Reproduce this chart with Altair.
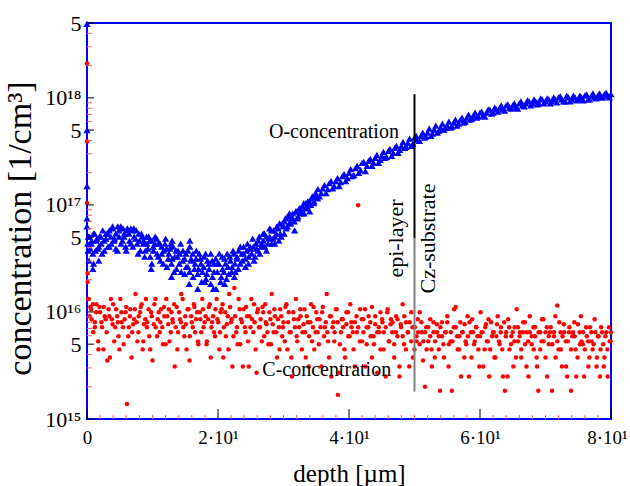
import altair as alt
import pandas as pd

# Oxygen concentration profile (blue triangles): depth in µm, concentration in 1/cm³
o_depth = [
    0.0, 0.0, 0.0, 0.0, 0.0, 0.1, 0.3, 0.9, 0.2, 0.5,
    0.7, 1.0, 1.3, 1.5, 1.8, 2.1, 2.3, 2.6, 2.9, 3.2,
    3.4, 3.7, 3.9, 4.2, 4.4, 4.7, 4.9, 5.2, 5.5, 5.7,
    6.0, 6.2, 6.5, 6.7, 7.0, 7.2, 7.5, 7.8, 8.0, 8.3,
    8.6, 8.8, 9.1, 9.3, 9.6, 9.9, 10.1, 10.4, 10.7, 10.9,
    11.2, 11.4, 11.7, 12.0, 12.2, 12.5, 12.8, 13.0, 13.3, 13.6,
    13.8, 14.1, 14.3, 14.6, 14.9, 15.1, 15.4, 15.7, 15.9, 16.2,
    16.5, 16.7, 17.0, 17.3, 17.5, 17.8, 18.1, 18.3, 18.6, 18.9,
    19.1, 19.4, 19.7, 19.9, 20.2, 20.5, 20.7, 21.0, 21.3, 21.5,
    21.8, 22.1, 22.3, 22.6, 22.9, 23.1, 23.4, 23.7, 23.9, 24.2,
    24.5, 24.7, 25.0, 25.3, 25.5, 25.8, 26.1, 26.3, 26.6, 26.9,
    27.1, 27.4, 27.7, 27.9, 28.2, 28.5, 28.7, 29.0, 29.3, 29.5,
    29.8, 30.1, 30.3, 30.6, 30.9, 31.1, 31.4, 31.7, 31.9, 32.2,
    32.5, 32.8, 33.1, 33.4, 33.7, 34.0, 34.3, 34.6, 34.9, 35.2,
    35.5, 36.0, 36.5, 37.0, 37.5, 38.0, 38.5, 39.0, 39.5, 40.0,
    40.5, 41.0, 41.5, 42.0, 42.5, 43.0, 43.5, 44.0, 44.5, 45.0,
    45.5, 46.0, 46.5, 47.0, 47.5, 48.0, 48.5, 49.0, 49.5, 50.0,
    50.5, 51.0, 51.5, 52.0, 52.5, 53.0, 53.5, 54.0, 54.5, 55.0,
    55.5, 56.0, 56.5, 57.0, 57.5, 58.0, 58.5, 59.0, 59.5, 60.0,
    60.5, 61.0, 61.5, 62.0, 62.5, 63.0, 63.5, 64.0, 64.5, 65.0,
    65.5, 66.0, 66.5, 67.0, 67.5, 68.0, 68.5, 69.0, 69.5, 70.0,
    70.5, 71.0, 71.5, 72.0, 72.5, 73.0, 73.5, 74.0, 74.5, 75.0,
    75.5, 76.0, 76.5, 77.0, 77.5, 78.0, 78.5, 79.0, 79.5, 80.0,
    # second sweep
    0.15, 0.4, 0.65, 0.9, 1.15, 1.4, 1.65, 1.9, 2.15, 2.4,
    2.65, 2.9, 3.15, 3.4, 3.65, 3.9, 4.15, 4.4, 4.65, 4.9,
    5.15, 5.4, 5.65, 5.9, 6.15, 6.4, 6.65, 6.9, 7.15, 7.4,
    7.65, 7.9, 8.15, 8.4, 8.65, 8.9, 9.15, 9.4, 9.65, 9.9,
    10.15, 10.4, 10.65, 10.9, 11.15, 11.4, 11.65, 11.9, 12.15, 12.4,
    12.65, 12.9, 13.15, 13.4, 13.65, 13.9, 14.15, 14.4, 14.65, 14.9,
    15.15, 15.4, 15.65, 15.9, 16.15, 16.4, 16.65, 16.9, 17.15, 17.4,
    17.65, 17.9, 18.15, 18.4, 18.65, 18.9, 19.15, 19.4, 19.65, 19.9,
    20.15, 20.4, 20.65, 20.9, 21.15, 21.4, 21.65, 21.9, 22.15, 22.4,
    22.65, 22.9, 23.15, 23.4, 23.65, 23.9, 24.15, 24.4, 24.65, 24.9,
    25.15, 25.4, 25.65, 25.9, 26.15, 26.4, 26.65, 26.9, 27.15, 27.4,
    27.65, 27.9, 28.15, 28.4, 28.65, 28.9, 29.15, 29.4, 29.65, 29.9,
    30.15, 30.4, 30.65, 30.9, 31.15, 31.4, 31.65, 31.9, 32.15, 32.4,
    32.65, 32.9, 33.15, 33.4, 33.65, 33.9, 34.15, 34.4, 34.65, 34.9,
    1.0, 1.8, 9.8, 12.9, 15.6, 16.9, 18.0, 19.3, 21.0, 22.5, 13.0, 15.7,
    35.25, 35.75, 36.25, 36.75, 37.25, 37.75, 38.25, 38.75, 39.25, 39.75,
    40.25, 40.75, 41.25, 41.75, 42.25, 42.75, 43.25, 43.75, 44.25, 44.75,
    45.25, 45.75, 46.25, 46.75, 47.25, 47.75, 48.25, 48.75, 49.25, 49.75,
    50.25, 50.75, 51.25, 51.75, 52.25, 52.75, 53.25, 53.75, 54.25, 54.75,
    55.25, 55.75, 56.25, 56.75, 57.25, 57.75, 58.25, 58.75, 59.25, 59.75,
    60.25, 60.75, 61.25, 61.75, 62.25, 62.75, 63.25, 63.75, 64.25, 64.75,
    65.25, 65.75, 66.25, 66.75, 67.25, 67.75, 68.25, 68.75, 69.25, 69.75,
    70.25, 70.75, 71.25, 71.75, 72.25, 72.75, 73.25, 73.75, 74.25, 74.75,
    75.25, 75.75, 76.25, 76.75, 77.25, 77.75, 78.25, 78.75, 79.25, 79.75,
]
o_conc = [
    4.9e18, 5.0e17, 1.5e17, 7.5e16, 6.3e16, 4.35e16, 3.01e16, 2.53e16, 5.06e16, 3.90e16,
    4.64e16, 5.40e16, 3.74e16, 4.85e16, 4.08e16, 5.06e16, 3.50e16, 4.64e16, 5.40e16, 4.08e16,
    5.77e16, 4.35e16, 6.02e16, 4.85e16, 3.90e16, 6.29e16, 5.06e16, 4.35e16, 6.02e16, 5.40e16,
    3.74e16, 5.77e16, 4.64e16, 6.02e16, 4.08e16, 5.06e16, 5.77e16, 3.50e16, 4.64e16, 5.40e16,
    4.35e16, 3.28e16, 5.06e16, 3.90e16, 4.64e16, 2.82e16, 4.08e16, 5.06e16, 3.50e16, 4.35e16,
    3.01e16, 4.08e16, 3.74e16, 4.85e16, 2.64e16, 3.50e16, 4.35e16, 3.14e16, 2.37e16, 3.74e16,
    3.28e16, 2.82e16, 4.35e16, 3.01e16, 2.27e16, 3.50e16, 2.64e16, 4.08e16, 3.14e16, 2.13e16,
    2.82e16, 3.74e16, 2.53e16, 3.14e16, 1.91e16, 2.64e16, 3.50e16, 2.27e16, 2.82e16, 1.83e16,
    3.01e16, 2.37e16, 1.64e16, 2.82e16, 3.50e16, 2.13e16, 2.53e16, 3.14e16, 2.04e16, 2.64e16,
    3.28e16, 2.37e16, 3.74e16, 2.82e16, 3.14e16, 2.53e16, 4.08e16, 3.01e16, 3.50e16, 2.64e16,
    4.35e16, 3.28e16, 3.90e16, 4.85e16, 3.01e16, 4.35e16, 3.74e16, 5.06e16, 4.08e16, 4.64e16,
    5.40e16, 3.74e16, 4.85e16, 6.02e16, 4.35e16, 5.77e16, 5.06e16, 6.29e16, 4.64e16, 5.40e16,
    6.71e16, 5.40e16, 7.48e16, 6.29e16, 8.34e16, 6.71e16, 7.48e16, 5.77e16, 8.71e16, 7.81e16,
    9.29e16, 8.34e16, 1.04e17, 9.29e16, 1.08e17, 8.71e16, 1.15e17, 1.04e17, 1.29e17, 1.15e17,
    1.20e17, 1.43e17, 1.29e17, 1.60e17, 1.43e17, 1.67e17, 1.50e17, 1.86e17, 1.67e17, 1.99e17,
    1.86e17, 2.21e17, 1.99e17, 2.47e17, 2.07e17, 2.58e17, 2.31e17, 2.75e17, 2.47e17, 2.87e17,
    2.75e17, 3.20e17, 2.87e17, 3.41e17, 3.06e17, 3.56e17, 3.41e17, 3.80e17, 3.56e17, 4.24e17,
    4.06e17, 4.42e17, 4.24e17, 4.72e17, 4.42e17, 5.04e17, 4.72e17, 5.26e17, 5.04e17, 5.49e17,
    5.26e17, 5.86e17, 5.49e17, 6.26e17, 5.86e17, 6.53e17, 6.26e17, 6.82e17, 6.53e17, 7.28e17,
    6.82e17, 7.28e17, 7.78e17, 7.28e17, 7.78e17, 8.12e17, 7.78e17, 8.48e17, 8.12e17, 8.48e17,
    8.12e17, 8.86e17, 8.48e17, 8.86e17, 9.25e17, 8.86e17, 9.25e17, 8.86e17, 9.66e17, 9.25e17,
    9.66e17, 9.25e17, 9.66e17, 1.01e18, 9.66e17, 9.25e17, 1.01e18, 9.66e17, 1.01e18, 9.66e17,
    1.01e18, 1.05e18, 9.66e17, 1.05e18, 1.01e18, 1.05e18, 1.01e18, 1.08e18, 1.05e18, 1.08e18,
    # second sweep
    3.74e16, 5.06e16, 4.35e16, 3.50e16, 5.40e16, 4.64e16, 3.90e16, 5.06e16, 4.35e16, 5.77e16,
    3.74e16, 4.85e16, 5.40e16, 4.08e16, 5.06e16, 6.29e16, 4.64e16, 5.40e16, 3.74e16, 5.77e16,
    6.29e16, 4.64e16, 5.06e16, 4.08e16, 6.02e16, 5.40e16, 4.35e16, 5.77e16, 6.02e16, 4.85e16,
    4.35e16, 5.40e16, 3.74e16, 5.06e16, 4.64e16, 3.74e16, 4.35e16, 5.06e16, 3.28e16, 4.64e16,
    3.74e16, 4.35e16, 4.85e16, 3.28e16, 4.35e16, 3.50e16, 2.82e16, 4.35e16, 3.90e16, 3.14e16,
    3.90e16, 2.82e16, 4.08e16, 3.28e16, 2.53e16, 3.74e16, 3.50e16, 2.37e16, 3.74e16, 3.14e16,
    2.64e16, 3.74e16, 2.37e16, 3.01e16, 3.50e16, 2.53e16, 3.14e16, 2.27e16, 3.50e16, 2.82e16,
    2.37e16, 3.28e16, 2.04e16, 3.01e16, 2.53e16, 3.50e16, 2.13e16, 2.82e16, 3.14e16, 2.37e16,
    2.82e16, 1.91e16, 3.28e16, 2.37e16, 2.82e16, 3.50e16, 2.27e16, 3.01e16, 2.64e16, 3.50e16,
    2.37e16, 3.28e16, 3.74e16, 2.82e16, 3.50e16, 4.08e16, 3.14e16, 3.74e16, 2.82e16, 4.08e16,
    3.50e16, 4.08e16, 3.28e16, 3.90e16, 4.64e16, 3.50e16, 4.35e16, 5.40e16, 4.08e16, 5.06e16,
    4.35e16, 5.06e16, 5.77e16, 4.85e16, 4.35e16, 5.40e16, 6.02e16, 6.71e16, 5.06e16, 6.29e16,
    7.01e16, 6.02e16, 7.81e16, 6.71e16, 7.48e16, 8.34e16, 7.01e16, 8.71e16, 7.48e16, 9.29e16,
    8.71e16, 9.70e16, 8.34e16, 1.04e17, 9.70e16, 1.08e17, 1.00e17, 1.20e17, 1.08e17, 1.20e17,
    2.82e16, 3.01e16, 2.53e16, 2.13e16, 1.83e16, 1.64e16, 1.91e16, 1.64e16, 1.83e16, 2.13e16, 4.64e16, 4.64e16,
    1.40e17, 1.29e17, 1.53e17, 1.40e17, 1.67e17, 1.50e17, 1.78e17, 1.63e17, 1.94e17, 1.78e17,
    2.16e17, 1.90e17, 2.31e17, 2.12e17, 2.52e17, 2.31e17, 2.69e17, 2.47e17, 2.93e17, 2.63e17,
    3.13e17, 2.81e17, 3.34e17, 3.06e17, 3.56e17, 3.27e17, 3.88e17, 3.49e17, 4.15e17, 3.72e17,
    4.42e17, 3.97e17, 4.72e17, 4.33e17, 5.15e17, 4.62e17, 5.49e17, 4.93e17, 5.74e17, 5.26e17,
    6.00e17, 5.38e17, 6.26e17, 5.74e17, 6.53e17, 6.00e17, 6.98e17, 6.40e17, 7.28e17, 6.68e17,
    7.45e17, 6.68e17, 7.78e17, 7.13e17, 8.12e17, 7.45e17, 8.48e17, 7.61e17, 8.67e17, 7.94e17,
    8.86e17, 7.94e17, 9.25e17, 8.30e17, 9.45e17, 8.48e17, 9.66e17, 8.67e17, 9.87e17, 8.86e17,
    9.87e17, 8.86e17, 1.01e18, 9.06e17, 1.03e18, 9.25e17, 1.05e18, 9.25e17, 1.05e18, 9.45e17,
    1.05e18, 9.45e17, 1.08e18, 9.66e17, 1.10e18, 9.87e17, 1.10e18, 1.01e18, 1.12e18, 1.01e18,
]

# Carbon concentration profile (red dots)
c_depth = [
    0.0, 0.0, 0.0, 0.1, 0.1, 0.3, 0.5, 0.7, 0.9, 1.2,
    1.4, 1.7, 1.9, 2.2, 2.5, 2.7, 3.0, 3.3, 3.5, 3.8,
    4.0, 4.3, 4.6, 4.8, 5.1, 5.3, 5.6, 5.9, 6.1, 6.4,
    6.6, 6.9, 7.2, 7.4, 7.7, 7.9, 8.2, 8.5, 8.7, 9.0,
    9.2, 9.5, 9.8, 10.0, 10.3, 10.5, 10.8, 11.1, 11.3, 11.6,
    11.8, 12.1, 12.4, 12.6, 12.9, 13.1, 13.4, 13.7, 13.9, 14.2,
    14.4, 14.7, 15.0, 15.2, 15.5, 15.7, 16.0, 16.3, 16.5, 16.8,
    17.0, 17.3, 17.6, 17.8, 18.1, 18.3, 18.6, 18.9, 19.1, 19.4,
    19.6, 19.9, 20.2, 20.4, 20.7, 20.9, 21.2, 21.5, 21.7, 22.0,
    22.2, 22.5, 22.8, 23.0, 23.3, 23.5, 23.8, 24.1, 24.3, 24.6,
    24.8, 25.1, 25.4, 25.6, 25.9, 26.1, 26.4, 26.7, 26.9, 27.2,
    27.4, 27.7, 28.0, 28.2, 28.5, 28.7, 29.0, 29.3, 29.5, 29.8,
    30.0, 30.3, 30.6, 30.8, 31.1, 31.3, 31.6, 31.9, 32.1, 32.4,
    32.6, 32.9, 33.2, 33.4, 33.7, 33.9, 34.2, 34.5, 34.7, 35.0,
    35.2, 35.5, 35.8, 36.0, 36.3, 36.6, 36.8, 37.1, 37.3, 37.6,
    37.8, 38.1, 38.3, 38.6, 38.9, 39.1, 39.4, 39.6, 39.9, 40.2,
    40.4, 40.7, 40.9, 41.2, 41.4, 41.7, 42.0, 42.2, 42.5, 42.7,
    43.0, 43.3, 43.5, 43.8, 44.0, 44.3, 44.6, 44.8, 45.1, 45.3,
    45.6, 45.9, 46.1, 46.4, 46.6, 46.9, 47.2, 47.4, 47.7, 47.9,
    48.2, 48.4, 48.7, 49.0, 49.2, 49.5, 49.7, 50.0, 50.3, 50.5,
    50.8, 51.1, 51.3, 51.6, 51.8, 52.1, 52.4, 52.6, 52.9, 53.1,
    53.4, 53.7, 53.9, 54.2, 54.4, 54.7, 55.0, 55.2, 55.5, 55.7,
    56.0, 56.3, 56.5, 56.8, 57.0, 57.3, 57.6, 57.8, 58.1, 58.3,
    58.6, 58.8, 59.1, 59.4, 59.6, 59.9, 60.1, 60.4, 60.7, 60.9,
    61.2, 61.4, 61.7, 62.0, 62.2, 62.5, 62.7, 63.0, 63.2, 63.5,
    63.8, 64.0, 64.3, 64.5, 64.8, 65.1, 65.3, 65.6, 65.8, 66.1,
    66.3, 66.6, 66.9, 67.1, 67.4, 67.6, 67.9, 68.2, 68.4, 68.7,
    68.9, 69.2, 69.4, 69.7, 70.0, 70.2, 70.5, 70.7, 71.0, 71.3,
    71.5, 71.8, 72.0, 72.3, 72.5, 72.8, 73.1, 73.3, 73.6, 73.9,
    74.1, 74.4, 74.6, 74.9, 75.2, 75.4, 75.7, 75.9, 76.2, 76.5,
    76.7, 77.0, 77.2, 77.5, 77.8, 78.0, 78.3, 78.5, 78.8, 79.0,
    79.3, 79.5, 79.8, 80.0,
    # second sweep
    0.15, 0.4, 0.65, 0.95, 1.2, 1.45, 1.75, 2.0, 2.3, 2.55,
    2.85, 3.1, 3.4, 3.65, 3.9, 4.15, 4.45, 4.7, 4.95, 5.25,
    5.5, 5.75, 6.0, 6.3, 6.55, 6.8, 7.05, 7.3, 7.6, 7.85,
    8.1, 8.35, 8.6, 8.9, 9.15, 9.4, 9.65, 9.9, 10.2, 10.45,
    10.7, 10.95, 11.2, 11.5, 11.75, 12.0, 12.25, 12.5, 12.8, 13.05,
    13.3, 13.55, 13.8, 14.05, 14.35, 14.6, 14.85, 15.1, 15.35, 15.65,
    15.9, 16.15, 16.4, 16.65, 16.95, 17.2, 17.45, 17.7, 17.95, 18.25,
    18.5, 18.75, 19.0, 19.25, 19.55, 19.8, 20.05, 20.3, 20.55, 20.8,
    21.1, 21.35, 21.6, 21.85, 22.1, 22.35, 22.6, 22.9, 23.15, 23.4,
    23.65, 23.9, 24.2, 24.45, 24.7, 24.95, 25.2, 25.5, 25.75, 26.0,
    26.25, 26.5, 26.8, 27.05, 27.3, 27.55, 27.85, 28.1, 28.35, 28.6,
    28.9, 29.15, 29.4, 29.65, 29.9, 30.2, 30.45, 30.7, 30.95, 31.2,
    31.5, 31.75, 32.0, 32.25, 32.55, 32.8, 33.05, 33.3, 33.55, 33.85,
    34.1, 34.35, 34.6, 34.9, 35.15, 35.4, 35.65, 35.9, 36.2, 36.45,
    36.7, 36.95, 37.25, 37.5, 37.75, 38.0, 38.25, 38.55, 38.8, 39.05,
    39.3, 39.6, 39.85, 40.1, 40.35, 40.6, 40.9, 41.15, 41.4, 41.65,
    41.95, 42.2, 42.45, 42.7, 42.95, 43.25, 43.5, 43.75, 44.0, 44.3,
    44.55, 44.8, 45.05, 45.3, 45.6, 45.85, 46.1, 46.35, 46.65, 46.9,
    47.15, 47.4, 47.7, 47.95, 48.2, 48.45, 48.7, 49.0, 49.25, 49.5,
    49.75, 50.05, 50.3, 50.55, 50.8, 51.05, 51.35, 51.6, 51.85, 52.1,
    52.4, 52.65, 52.9, 53.15, 53.45, 53.7, 53.95, 54.2, 54.5, 54.75,
    55.0, 55.25, 55.55, 55.8, 56.05, 56.3, 56.6, 56.85, 57.1, 57.35,
    57.65, 57.9, 58.15, 58.4, 58.7, 58.95, 59.2, 59.45, 59.75, 60.0,
    60.25, 60.5, 60.8, 61.05, 61.3, 61.55, 61.85, 62.1, 62.35, 62.6,
    62.9, 63.15, 63.4, 63.7, 63.95, 64.2, 64.45, 64.75, 65.0, 65.25,
    65.5, 65.8, 66.05, 66.3, 66.55, 66.85, 67.1, 67.35, 67.6, 67.9,
    68.15, 68.4, 68.65, 68.95, 69.2, 69.45, 69.7, 70.0, 70.25, 70.5,
    70.8, 71.05, 71.3, 71.55, 71.8, 72.1, 72.35, 72.6, 72.85, 73.15,
    73.4, 73.65, 73.9, 74.2, 74.45, 74.7, 74.95, 75.25, 75.5, 75.75,
    76.0, 76.3, 76.55, 76.8, 77.05, 77.35, 77.6, 77.85, 78.1, 78.4,
    78.65, 78.9, 79.15, 79.45, 79.7, 79.95,
]
c_conc = [
    2.1e18, 3.9e17, 1.04e17, 2.3e16, 1.9e16, 1.32e16, 1.11e16, 8.55e15, 1.18e16, 7.19e15,
    9.95e15, 5.31e15, 1.11e16, 8.02e15, 4.47e15, 9.13e15, 6.45e15, 1.06e16, 3.75e15, 8.55e15,
    1.18e16, 7.19e15, 9.13e15, 5.92e15, 1.32e16, 8.02e15, 4.98e15, 9.95e15, 1.38e15, 7.19e15,
    1.06e16, 6.45e15, 8.55e15, 1.47e16, 5.31e15, 9.13e15, 1.11e16, 4.47e15, 7.67e15, 1.32e16,
    8.02e15, 5.92e15, 9.95e15, 3.52e15, 1.18e16, 7.19e15, 8.55e15, 6.45e15, 1.06e16, 4.98e15,
    9.13e15, 1.32e16, 7.67e15, 5.31e15, 9.95e15, 8.02e15, 3.09e15, 1.11e16, 6.45e15, 8.55e15,
    1.47e16, 7.19e15, 9.13e15, 4.47e15, 1.06e16, 5.92e15, 8.02e15, 1.18e16, 6.45e15, 9.95e15,
    4.98e15, 8.55e15, 1.32e16, 7.19e15, 9.13e15, 5.31e15, 1.11e16, 3.75e15, 8.02e15, 6.45e15,
    1.06e16, 8.55e15, 4.47e15, 9.95e15, 1.18e16, 7.19e15, 5.92e15, 9.13e15, 1.47e16, 8.02e15,
    3.09e15, 1.67e16, 6.45e15, 4.98e15, 1.06e16, 8.55e15, 3.09e15, 7.19e15, 1.11e16, 5.31e15,
    9.13e15, 1.32e16, 6.45e15, 8.02e15, 2.71e15, 1.06e16, 7.19e15, 5.31e15, 9.95e15, 1.18e16,
    7.67e15, 4.98e15, 8.55e15, 1.47e16, 6.45e15, 9.13e15, 3.75e15, 7.19e15, 1.06e16, 5.92e15,
    8.02e15, 1.11e16, 4.47e15, 9.95e15, 6.45e15, 2.49e15, 8.55e15, 1.32e16, 5.31e15, 7.19e15,
    9.13e15, 6.45e15, 1.06e16, 3.75e15, 8.02e15, 5.92e15, 1.18e16, 7.19e15, 4.47e15, 9.95e15,
    6.45e15, 8.55e15, 3.09e15, 1.11e16, 7.19e15, 1.47e16, 5.31e15, 9.13e15, 2.49e15, 8.02e15,
    6.45e15, 1.06e16, 1.68e15, 4.98e15, 8.55e15, 7.19e15, 3.75e15, 9.95e15, 5.92e15, 1.18e16,
    7.19e15, 4.47e15, 8.02e15, 6.45e15, 9.9e16, 1.06e16, 5.31e15, 8.55e15, 3.09e15, 7.19e15,
    9.13e15, 5.92e15, 1.11e16, 4.98e15, 7.67e15, 2.71e15, 6.45e15, 9.95e15, 8.02e15, 4.47e15,
    7.19e15, 1.06e16, 5.31e15, 8.55e15, 6.45e15, 3.75e15, 9.13e15, 5.92e15, 2.49e15, 7.67e15,
    1.18e16, 4.98e15, 8.02e15, 6.45e15, 3.09e15, 9.95e15, 7.19e15, 4.47e15, 5.31e15, 8.55e15,
    9.95e15, 6.45e15, 3.52e15, 2.00e15, 7.19e15, 5.31e15, 8.55e15, 4.47e15, 6.45e15, 3.75e15,
    7.67e15, 5.92e15, 1.84e15, 8.02e15, 4.98e15, 6.45e15, 9.13e15, 3.09e15, 5.31e15, 1.84e15,
    7.19e15, 1.11e16, 5.92e15, 4.47e15, 8.02e15, 6.45e15, 3.75e15, 5.31e15, 9.13e15, 2.49e15,
    6.45e15, 8.55e15, 4.98e15, 7.19e15, 5.92e15, 3.09e15, 9.95e15, 6.45e15, 4.47e15, 7.67e15,
    5.31e15, 2.49e15, 8.02e15, 6.45e15, 3.75e15, 5.92e15, 9.13e15, 4.98e15, 7.19e15, 2.49e15,
    1.84e15, 6.45e15, 8.55e15, 4.47e15, 5.92e15, 3.09e15, 7.19e15, 1.06e16, 5.31e15, 6.45e15,
    3.75e15, 8.02e15, 4.98e15, 6.45e15, 2.49e15, 9.13e15, 5.92e15, 4.47e15, 7.19e15, 3.09e15,
    1.84e15, 6.45e15, 5.31e15, 8.55e15, 3.75e15, 7.19e15, 4.98e15, 6.45e15, 1.84e15, 5.92e15,
    9.13e15, 1.15e16, 4.47e15, 6.45e15, 3.09e15, 7.67e15, 5.31e15, 2.49e15, 6.45e15, 1.84e15,
    5.92e15, 8.02e15, 4.47e15, 3.75e15, 6.45e15, 9.13e15, 4.98e15, 2.49e15, 7.19e15, 5.31e15,
    3.75e15, 6.45e15, 4.47e15, 8.55e15, 3.09e15, 5.92e15, 2.49e15, 7.19e15, 4.98e15, 3.75e15,
    6.45e15, 2.49e15, 5.31e15, 6.45e15,
    # second sweep
    1.32e16, 9.13e15, 1.06e16, 6.45e15, 8.02e15, 1.18e16, 4.47e15, 9.95e15, 7.19e15, 1.11e16,
    8.55e15, 3.52e15, 9.13e15, 1.32e16, 7.67e15, 5.31e15, 1.06e16, 8.02e15, 4.47e15, 9.95e15,
    7.19e15, 8.55e15, 1.11e16, 5.92e15, 9.13e15, 3.75e15, 7.67e15, 1.06e16, 8.02e15, 6.45e15,
    9.95e15, 1.18e16, 5.31e15, 8.55e15, 7.19e15, 1.06e16, 4.47e15, 9.13e15, 7.67e15, 1.32e16,
    5.92e15, 9.95e15, 8.02e15, 7.19e15, 1.11e16, 4.98e15, 9.13e15, 1.06e16, 6.45e15, 8.55e15,
    1.18e16, 7.19e15, 4.47e15, 9.95e15, 8.02e15, 1.32e16, 5.92e15, 7.67e15, 1.06e16, 3.52e15,
    9.13e15, 7.19e15, 1.11e16, 8.55e15, 5.31e15, 9.95e15, 6.45e15, 1.06e16, 8.02e15, 4.98e15,
    8.55e15, 1.18e16, 7.19e15, 9.13e15, 5.92e15, 1.32e16, 8.02e15, 6.45e15, 1.06e16, 3.75e15,
    9.95e15, 7.67e15, 4.47e15, 1.11e16, 8.55e15, 5.92e15, 9.13e15, 7.19e15, 1.32e16, 4.98e15,
    8.02e15, 1.06e16, 6.45e15, 9.13e15, 3.09e15, 7.19e15, 8.55e15, 1.18e16, 4.47e15, 9.95e15,
    7.19e15, 8.55e15, 1.11e16, 5.92e15, 8.02e15, 6.45e15, 9.95e15, 4.98e15, 7.67e15, 1.06e16,
    6.45e15, 8.55e15, 4.47e15, 9.13e15, 7.19e15, 5.31e15, 1.18e16, 8.02e15, 6.45e15, 3.75e15,
    9.95e15, 7.19e15, 5.92e15, 8.55e15, 1.06e16, 4.47e15, 7.67e15, 6.45e15, 9.13e15, 3.09e15,
    8.02e15, 5.31e15, 1.11e16, 6.45e15, 8.55e15, 4.98e15, 7.19e15, 9.95e15, 5.92e15, 8.02e15,
    6.45e15, 3.75e15, 9.13e15, 7.19e15, 5.31e15, 1.06e16, 8.02e15, 2.71e15, 6.45e15, 8.55e15,
    4.47e15, 7.67e15, 9.95e15, 5.92e15, 8.02e15, 6.45e15, 3.09e15, 9.13e15, 7.19e15, 5.31e15,
    8.55e15, 6.45e15, 1.06e16, 4.98e15, 7.19e15, 8.02e15, 3.75e15, 5.92e15, 9.13e15, 6.45e15,
    7.19e15, 4.47e15, 8.55e15, 6.45e15, 2.49e15, 9.95e15, 5.31e15, 7.67e15, 8.02e15, 4.98e15,
    6.45e15, 8.55e15, 3.09e15, 7.19e15, 5.92e15, 9.13e15, 4.47e15, 6.45e15, 8.02e15, 5.31e15,
    3.75e15, 7.19e15, 5.92e15, 6.45e15, 4.98e15, 8.02e15, 5.31e15, 6.45e15, 4.47e15, 7.19e15,
    5.92e15, 3.09e15, 8.02e15, 5.31e15, 6.45e15, 4.47e15, 7.19e15, 5.92e15, 3.75e15, 6.45e15,
    8.02e15, 4.98e15, 6.45e15, 5.31e15, 1.06e16, 7.19e15, 4.47e15, 5.92e15, 2.49e15, 6.45e15,
    7.67e15, 4.98e15, 5.92e15, 8.02e15, 3.75e15, 6.45e15, 5.31e15, 7.19e15, 4.47e15, 5.92e15,
    6.45e15, 3.09e15, 7.19e15, 5.31e15, 8.55e15, 4.47e15, 5.92e15, 6.45e15, 3.75e15, 7.67e15,
    5.31e15, 6.45e15, 4.47e15, 8.02e15, 5.92e15, 2.49e15, 7.19e15, 4.98e15, 6.45e15, 5.31e15,
    3.75e15, 7.19e15, 5.92e15, 4.47e15, 6.45e15, 8.02e15, 3.09e15, 5.31e15, 6.45e15, 4.98e15,
    7.19e15, 5.92e15, 3.75e15, 6.45e15, 4.47e15, 8.55e15, 5.31e15, 6.45e15, 2.49e15, 5.92e15,
    7.19e15, 4.98e15, 6.45e15, 3.75e15, 5.31e15, 8.02e15, 4.47e15, 5.92e15, 6.45e15, 3.09e15,
    5.31e15, 7.19e15, 4.47e15, 6.45e15, 5.92e15, 2.49e15, 7.67e15, 4.98e15, 5.31e15, 6.45e15,
    4.47e15, 5.92e15, 3.09e15, 7.19e15, 5.31e15, 4.98e15, 6.45e15, 3.75e15, 5.92e15, 4.47e15,
    6.45e15, 3.09e15, 5.92e15, 4.47e15, 7.19e15, 5.31e15,
]

# Axis ticks and labels
x_major = [0, 20, 40, 60, 80]
x_major_labels = ["0", "2·10¹", "4·10¹", "6·10¹", "8·10¹"]
x_minor = [2, 4, 6, 8, 10, 12, 14, 16, 18, 22, 24, 26, 28, 30, 32, 34, 36, 38,
           42, 44, 46, 48, 50, 52, 54, 56, 58, 62, 64, 66, 68, 70, 72, 74, 76, 78]
y_major = [1e15, 5e15, 1e16, 5e16, 1e17, 5e17, 1e18, 5e18]
y_major_labels = ["10¹⁵", "5", "10¹⁶", "5", "10¹⁷", "5", "10¹⁸", "5"]
y_minor = [2e15, 3e15, 4e15, 6e15, 7e15, 8e15, 9e15,
           2e16, 3e16, 4e16, 6e16, 7e16, 8e16, 9e16,
           2e17, 3e17, 4e17, 6e17, 7e17, 8e17, 9e17,
           2e18, 3e18, 4e18]

# Epi-layer / substrate boundary and labels
boundary_depth = 50
boundary_top = 1.08e18
boundary_mid = 4.85e16
boundary_bottom = 1.80e15
notes_text = ["O-concentration", "C-concentration"]
notes_depth = [37.7, 36.6]
notes_conc = [4.24e17, 2.54e15]
side_text = ["epi-layer", "Cz-substrate"]
side_depth = [47.2, 52.1]
side_conc = [4.85e16, 4.85e16]

FONT = "Liberation Serif"
W, H = 524, 396


def x_label_expr(values, labels):
    expr = "''"
    for v, lab in reversed(list(zip(values, labels))):
        expr = f"abs(datum.value - {v}) < 1e-6 ? '{lab}' : {expr}"
    return expr


def y_label_expr(values, labels):
    expr = "''"
    for v, lab in reversed(list(zip(values, labels))):
        expr = f"abs(datum.value / {v:.0f} - 1) < 1e-6 ? '{lab}' : {expr}"
    return expr


x_scale = alt.Scale(domain=[0, 80], nice=False, zero=False)
y_scale = alt.Scale(type="log", domain=[1e15, 5e18], nice=False)

x_axis = alt.Axis(
    values=x_major, labelExpr=x_label_expr(x_major, x_major_labels),
    ticks=False, domain=False, grid=False, labelPadding=9,
    labelFont=FONT, labelFontSize=19, labelColor="black", labelFlush=False,
    labelOffset={"condition": {"test": f"datum.value == {x_major[-1]}", "value": -4},
                 "value": 0},
    labelOverlap=False, title="depth [µm]", titleFont=FONT, titleFontSize=25,
    titleFontWeight="normal", titleColor="black", titleX=W / 2, titleY=62,
    titleBaseline="alphabetic", titleAlign="center",
)
y_axis = alt.Axis(
    values=y_major, labelExpr=y_label_expr(y_major, y_major_labels),
    ticks=False, domain=False, grid=False, labelPadding=6,
    labelFont=FONT, labelFontSize=22, labelColor="black", labelFlush=False,
    labelOverlap=False, labelBound=False, title="concentration [1/cm³]",
    titleFont=FONT, titleFontSize=34, titleFontWeight="normal",
    titleColor="black", titleX=-50, titleY=205, titleAngle=270,
    titleBaseline="bottom", titleAlign="center",
)


def X(field):
    return alt.X(field, scale=x_scale, axis=x_axis)


def Y(field):
    return alt.Y(field, scale=y_scale, axis=y_axis)


c_df = pd.DataFrame({"depth": c_depth, "conc": c_conc})
o_df = pd.DataFrame({"depth": o_depth, "conc": o_conc})

c_layer = alt.Chart(c_df).mark_point(
    shape="circle", filled=True, color="#ff0000", size=20, opacity=1
).encode(x=X("depth:Q"), y=Y("conc:Q"))

o_layer = alt.Chart(o_df).mark_point(
    shape="triangle-up", filled=True, color="#0000ff", size=52, opacity=1
).encode(x=X("depth:Q"), y=Y("conc:Q"))


def x_ticks(values, length, color):
    return alt.Chart(pd.DataFrame({"depth": values})).mark_rule(
        color=color, strokeWidth=1
    ).encode(x=X("depth:Q"), y=alt.value(H), y2=alt.value(H - length))


def y_ticks(values, length, color):
    return alt.Chart(pd.DataFrame({"conc": values})).mark_rule(
        color=color, strokeWidth=1
    ).encode(y=Y("conc:Q"), x=alt.value(0), x2=alt.value(length))


boundary_df = pd.DataFrame({
    "depth": [boundary_depth, boundary_depth],
    "conc": [boundary_top, boundary_mid],
    "bottom": [boundary_mid, boundary_bottom],
    "part": ["epi", "substrate"],
})
boundary = alt.Chart(boundary_df).mark_rule(strokeWidth=2).encode(
    x=X("depth:Q"), y=Y("conc:Q"), y2="bottom:Q",
    color=alt.Color("part:N", scale=alt.Scale(domain=["epi", "substrate"],
                                              range=["#000000", "#808080"]),
                    legend=None),
)

notes = alt.Chart(pd.DataFrame({"depth": notes_depth, "conc": notes_conc,
                                "label": notes_text})).mark_text(
    font=FONT, fontSize=20, color="black", align="center", baseline="alphabetic"
).encode(x=X("depth:Q"), y=Y("conc:Q"), text="label:N")

side = alt.Chart(pd.DataFrame({"depth": side_depth, "conc": side_conc,
                               "label": side_text})).mark_text(
    font=FONT, fontSize=22, color="black", align="center", baseline="middle",
    angle=270,
).encode(x=X("depth:Q"), y=Y("conc:Q"), text="label:N")

chart = alt.layer(
    c_layer, o_layer,
    x_ticks(x_minor, 4, "#ff5a5a"), x_ticks(x_major, 10, "black"),
    y_ticks(y_minor, 5, "#ff5a5a"), y_ticks(y_major, 7, "black"),
    boundary, notes, side,
).properties(
    width=W, height=H,
    autosize=alt.AutoSizeParams(type="none"),
    padding={"left": 87, "top": 23, "right": 19, "bottom": 67},
    background="white",
).configure_view(
    stroke="#0000ff", strokeWidth=2,
)

chart.save("out.html", embed_options={"renderer": "svg", "actions": False})
